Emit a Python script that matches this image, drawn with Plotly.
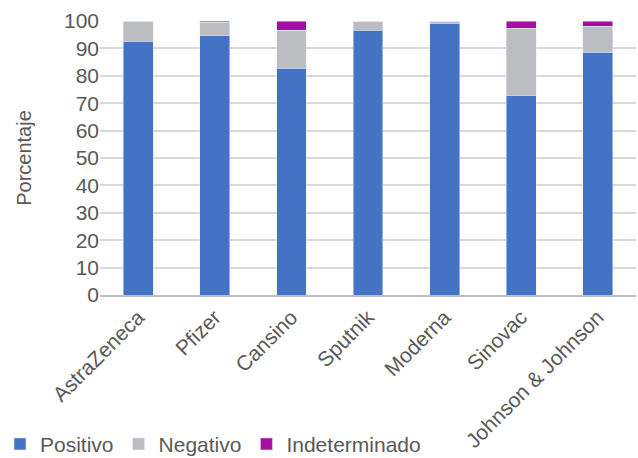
import plotly.graph_objects as go

categories = ["AstraZeneca", "Pfizer", "Cansino", "Sputnik", "Moderna", "Sinovac", "Johnson & Johnson"]
positivo = [92.6, 94.8, 82.8, 96.6, 99.2, 72.9, 88.6]
negativo = [7.4, 4.7, 13.8, 3.4, 0.8, 24.4, 9.5]
indeterminado = [0.0, 0.5, 3.4, 0.0, 0.0, 2.7, 1.9]
y_ticks = [0, 10, 20, 30, 40, 50, 60, 70, 80, 90, 100]

FONT = "Liberation Sans, Arial, sans-serif"
GRAY = "#595959"

fig = go.Figure()
fig.add_bar(x=categories, y=positivo, name="Positivo", marker_color="#4472C4")
fig.add_bar(x=categories, y=negativo, name="Negativo", marker_color="#BCBDC0")
fig.add_bar(x=categories, y=indeterminado, name="Indeterminado", marker_color="#A50EA0")

fig.update_layout(
    width=638, height=458,
    barmode="stack", bargap=0.61,
    margin=dict(l=100, r=2, t=21, b=163),
    paper_bgcolor="white", plot_bgcolor="white",
    font=dict(family=FONT, color=GRAY, size=20),
    legend=dict(orientation="h", xref="container", x=0.0, xanchor="left",
                yref="container", y=0.03, yanchor="middle",
                font=dict(size=21, color=GRAY), itemwidth=30, traceorder="normal"),
    showlegend=True,
)
fig.update_xaxes(tickangle=-45, showline=True, linecolor="#BFBFBF", linewidth=1.5,
                 ticks="", tickfont=dict(size=21, color=GRAY), automargin=False)
fig.update_yaxes(range=[0, 100], tickvals=y_ticks, showgrid=True, gridcolor="#D9D9D9",
                 gridwidth=1.5, zeroline=False, ticks="", tickfont=dict(size=21, color=GRAY),
                 automargin=False,
                 title=dict(text="Porcentaje", font=dict(size=20, color=GRAY), standoff=26))

fig.write_html("out.html")
